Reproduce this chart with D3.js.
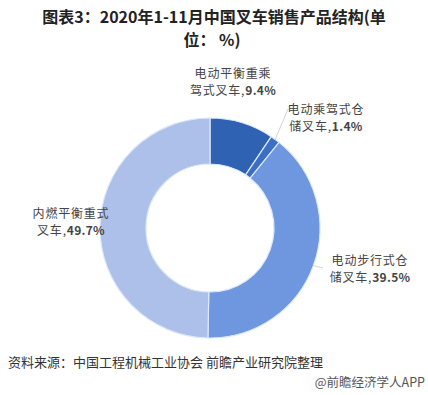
<!DOCTYPE html>
<html>
<head>
<meta charset="utf-8">
<script src="https://cdn.jsdelivr.net/npm/d3@7"></script>
<style>
  body { margin: 0; background: #fff; }
  svg { display: block; font-family: "Noto Sans CJK SC", "Noto Sans", sans-serif; }
</style>
</head>
<body>
<svg id="chart" width="428" height="395"></svg>
<script>
/* DATA */
const categories = ["电动平衡重乘驾式叉车", "电动乘驾式仓储叉车", "电动步行式仓储叉车", "内燃平衡重式叉车"];
const shares = [9.4, 1.4, 39.5, 49.7];
// label text as printed: first line, second line (name part), value
const labelTop = ["电动平衡重乘", "电动乘驾式仓", "电动步行式仓", "内燃平衡重式"];
const labelBottom = ["驾式叉车,", "储叉车,", "储叉车,", "叉车,"];
const colors = ["#2f62b3", "#3c6fc4", "#6f97df", "#adc0ea"];

/* LAYOUT */
const width = 428, height = 395;
const cx = 210, cy = 228;
const outerR = 110, innerR = 64;

const svg = d3.select("#chart");

// title
svg.append("text")
  .attr("x", 214).attr("y", 23)
  .attr("text-anchor", "middle")
  .attr("font-size", 16).attr("font-weight", "bold").attr("fill", "#222")
  .text("图表3：2020年1-11月中国叉车销售产品结构(单");
svg.append("text")
  .attr("x", 212).attr("y", 46)
  .attr("text-anchor", "middle")
  .attr("font-size", 16).attr("font-weight", "bold").attr("fill", "#222")
  .text("位： %)");

// donut
const pie = d3.pie().sort(null).value(d => d)(shares);
const arc = d3.arc().innerRadius(innerR).outerRadius(outerR);

const g = svg.append("g").attr("transform", `translate(${cx},${cy})`);

g.selectAll("path")
  .data(pie)
  .join("path")
  .attr("d", arc)
  .attr("fill", (d, i) => colors[i])
  .attr("stroke", "#dbe8fb")
  .attr("stroke-width", 1.2);

// label anchors relative to the donut centre
const labelAt = [[23, -150], [116, -114], [160, 37], [-139, -10]];

pie.forEach((d, i) => {
  const [lx, ly] = labelAt[i];

  // leader lines for the right-hand labels
  if (i === 1 || i === 2) {
    const [ox, oy] = d3.arc().innerRadius(outerR).outerRadius(outerR).centroid(d);
    const end = i === 1 ? [lx - 38, ly - 5] : [lx - 47, ly + 3];
    g.append("line")
      .attr("x1", ox).attr("y1", oy)
      .attr("x2", end[0]).attr("y2", end[1])
      .attr("stroke", "#c8c8c8").attr("stroke-width", 0.8);
  }

  const t = g.append("text")
    .attr("text-anchor", "middle")
    .attr("font-size", 12)
    .attr("letter-spacing", 0.8)
    .attr("fill", "#444");
  t.append("tspan").attr("x", lx).attr("y", ly).text(labelTop[i]);
  const t2 = t.append("tspan").attr("x", lx).attr("y", ly + 17);
  t2.append("tspan").text(labelBottom[i]);
  t2.append("tspan").attr("font-weight", "bold").attr("letter-spacing", 0.3)
    .text(d3.format(".1f")(shares[i]) + "%");
});

// source + credit
svg.append("text")
  .attr("x", 8).attr("y", 367)
  .attr("font-size", 13).attr("fill", "#333")
  .text("资料来源：中国工程机械工业协会 前瞻产业研究院整理");
svg.append("text")
  .attr("x", 425).attr("y", 387)
  .attr("text-anchor", "end")
  .attr("font-size", 12.5).attr("fill", "#555")
  .text("@前瞻经济学人APP");
</script>
</body>
</html>
